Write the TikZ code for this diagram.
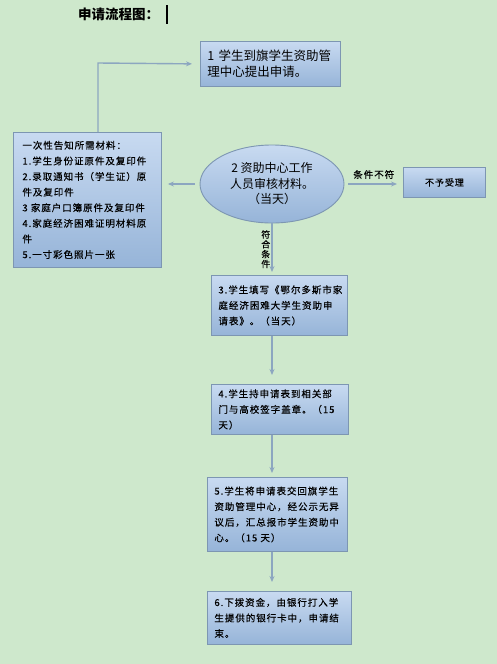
\documentclass[tikz,border=0pt]{standalone}
\usepackage{fontspec}
\usepackage{tikz}
\usetikzlibrary{shapes.geometric,arrows.meta}
\newfontfamily\cjk{Noto Sans CJK SC}
\newfontfamily\cjksp[LetterSpace=10,FakeBold=0.3]{Noto Sans CJK SC}
\definecolor{bgreen}{RGB}{206,232,204}
\definecolor{btop}{RGB}{200,218,241}
\definecolor{bbot}{RGB}{150,180,216}
\definecolor{bline}{RGB}{125,150,178}
\definecolor{aline}{RGB}{140,166,192}
\tikzset{
  stepbox/.style={draw=bline,line width=0.9pt,top color=btop,bottom color=bbot,
    rectangle,anchor=north west,align=left,inner xsep=7pt,inner ysep=0pt},
  bigtxt/.style={font=\cjk\fontsize{12.5}{16}\selectfont},
  smalltxt/.style={font=\cjksp\fontsize{9.5}{15.6}\selectfont},
  arr/.style={draw=aline,line width=1.4pt,-{Stealth[length=6pt,width=5pt]}}
}

\begin{document}
\begin{tikzpicture}[x=1pt,y=-1pt]
\fill[bgreen] (0,0) rectangle (497,664);
\useasboundingbox (0,0) rectangle (497,664);
% title
\node[anchor=west,inner sep=0pt,font=\cjk\bfseries\fontsize{13.5}{15}\selectfont] (title) at (78,14) {申请流程图：};
\draw[line width=2pt] (167,5)--(167,24);
% boxes
\node[stepbox,bigtxt,text width=126pt,minimum height=45pt] (b1) at (200,41)
  {1 学生到旗学生资助管\\理中心提出申请。};
\node[draw=bline,line width=0.9pt,top color=btop,bottom color=bbot,ellipse,
  minimum width=144pt,minimum height=78pt,align=center,inner sep=0pt,
  font=\cjk\fontsize{12}{15.5}\selectfont] (b2) at (272,184)
  {2 资助中心工作\\人员审核材料。\\（当天）};
\node[stepbox,smalltxt,text width=130pt,minimum height=135pt,inner xsep=9pt] (mat) at (13,132)
  {一次性告知所需材料：\\1.学生身份证原件及复印件\\2.录取通知书（学生证）原\\件及复印件\\3 家庭户口簿原件及复印件\\4.家庭经济困难证明材料原\\件\\5.一寸彩色照片一张};
\node[stepbox,font=\cjksp\fontsize{9}{12}\selectfont,minimum width=82pt,minimum height=30pt,align=center] (no) at (403,167)
  {不予受理};
\node[stepbox,smalltxt,text width=122pt,minimum height=60pt] (b3) at (211,275)
  {3.学生填写《鄂尔多斯市家\\庭经济困难大学生资助申\\请表》。（当天）};
\node[stepbox,smalltxt,text width=123pt,minimum height=50pt] (b4) at (211,384)
  {4.学生持申请表到相关部\\门与高校签字盖章。（15\\天）};
\node[stepbox,smalltxt,text width=126pt,minimum height=74pt] (b5) at (207,477)
  {5.学生将申请表交回旗学生\\资助管理中心，经公示无异\\议后，汇总报市学生资助中\\心。（15 天）};
\node[stepbox,smalltxt,text width=130pt,minimum height=53pt] (b6) at (207,591)
  {6.下拨资金，由银行打入学\\生提供的银行卡中，申请结\\束。};
% connectors
\coordinate (turn) at (98,63);
\coordinate (spine) at (272,0);
\draw[arr,shorten >=8pt] (mat.north -| turn) -- (turn) -- (b1.west);
\draw[arr,shorten <=5pt,shorten >=6pt] (b2.west) -- (b2.west -| mat.east);
\draw[arr,shorten <=4pt,shorten >=6pt] (b2.east) -- (no.west |- b2.east)
  node[midway,above=1pt,smalltxt,text=black] (nolab) {条件不符};
\draw[arr,shorten >=3pt] (b2.south) -- (b2.south |- b3.north)
  node[midway,left=0pt,font=\cjksp\fontsize{9}{9.8}\selectfont,align=center,inner sep=1pt] (yeslab) {符\\合\\条\\件};
\draw[arr,shorten >=9pt] (b3.south -| spine) -- (b4.north -| spine);
\draw[arr,shorten >=4pt] (b4.south -| spine) -- (b5.north -| spine);
\draw[arr,shorten >=9pt] (b5.south -| spine) -- (b6.north -| spine);
\end{tikzpicture}
\end{document}
